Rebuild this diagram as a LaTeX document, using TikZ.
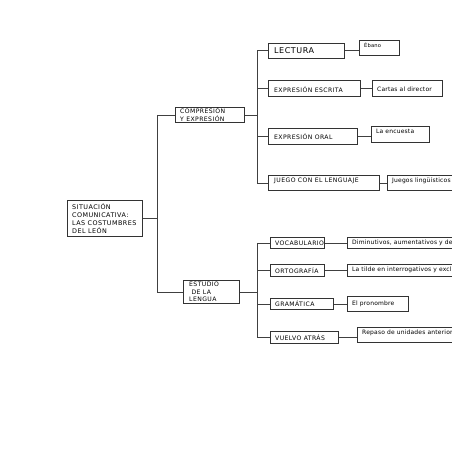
\documentclass[tikz,border=0pt]{standalone}
\usepackage{fontspec}
\setmainfont{DejaVu Sans}
\newfontfamily\capf[LetterSpace=7]{DejaVu Sans}
\newfontfamily\lowf[LetterSpace=3]{DejaVu Sans}
\usetikzlibrary{shadows}
\newcommand\mybox[5]{\node[bx, minimum width=#4-#2, minimum height=#5-#3] (#1) at (#2,#3) {};}
\begin{document}
\begin{tikzpicture}[x=1pt,y=-1pt,
  bx/.style={draw=black!80, line width=0.6pt, fill=white, anchor=north west, inner sep=0pt,
    drop shadow={shadow xshift=0.8pt, shadow yshift=-0.8pt, fill=black!40, opacity=1}},
  tx/.style={anchor=west, inner xsep=5pt, inner ysep=0pt, align=left, font=\capf\fontsize{6.1}{7.6}\selectfont},
  lw/.style={tx, font=\lowf\fontsize{6}{7.5}\selectfont},
  txt/.style={anchor=north west, inner ysep=2.5pt},
  ln/.style={draw=black!75, line width=0.6pt}]
\useasboundingbox (0,0) rectangle (452,452);
\clip (0,0) rectangle (452,452);
% boxes
\mybox{sit}{67}{200}{142}{236}
\mybox{comp}{175}{107}{244}{122}
\mybox{est}{183}{280}{239}{303}
\mybox{lect}{268}{43}{344}{58}
\mybox{eb}{359}{40}{399}{55}
\mybox{esc}{268}{80}{360}{96}
\mybox{car}{372}{80}{442}{96}
\mybox{oral}{268}{128}{357}{144}
\mybox{enc}{371}{126}{429}{142}
\mybox{jue}{268}{175}{379}{190}
\mybox{jl}{387}{175}{470}{190}
\mybox{voc}{270}{237}{324}{248}
\mybox{dim}{347}{237}{470}{248}
\mybox{ort}{270}{264}{324}{276}
\mybox{til}{347}{264}{470}{276}
\mybox{gram}{270}{298}{333}{309}
\mybox{pro}{347}{296}{408}{311}
\mybox{vue}{270}{331}{338}{343}
\mybox{rep}{357}{327}{470}{342}
% texts
\node[tx, font=\capf\fontsize{6.4}{8}\selectfont, inner xsep=5pt] at (sit.west) {SITUACIÓN\\COMUNICATIVA:\\LAS COSTUMBRES\\DEL LEÓN};
\node[tx] at (comp.west) {COMPRESIÓN\\Y EXPRESIÓN};
\node[tx, inner xsep=6pt] at (est.west) {ESTUDIO\\\ DE LA\\LENGUA};
\node[tx, font=\capf\fontsize{8}{9}\selectfont, inner xsep=6pt] at (lect.west) {LECTURA};
\node[lw, txt, font=\lowf\fontsize{5.2}{6}\selectfont] at (eb.north west) {Ébano};
\node[tx, inner xsep=6pt] at ([yshift=-1]esc.west) {EXPRESIÓN ESCRITA};
\node[lw] at ([yshift=-1]car.west) {Cartas al director};
\node[tx, inner xsep=6pt] at (oral.west) {EXPRESIÓN ORAL};
\node[lw, txt] at (enc.north west) {La encuesta};
\node[tx, txt, inner xsep=6pt] at (jue.north west) {JUEGO CON EL LENGUAJE};
\node[lw, txt] at (jl.north west) {Juegos lingüísticos};
\node[tx] at (voc.west) {VOCABULARIO};
\node[lw] at (dim.west) {Diminutivos, aumentativos y despectivos};
\node[tx] at (ort.west) {ORTOGRAFÍA};
\node[lw] at (til.west) {La tilde en interrogativos y exclamativos};
\node[tx] at (gram.west) {GRAMÁTICA};
\node[lw] at (pro.west) {El pronombre};
\node[tx] at (vue.west) {VUELVO ATRÁS};
\node[lw, txt] at (rep.north west) {Repaso de unidades anteriores};
% spines
\coordinate (sA) at (157,0);
\coordinate (sB) at (257,0);
\draw[ln] (sit.east) -- (sit.east -| sA);
\draw[ln] (comp.west -| sA) -- (est.west -| sA);
\draw[ln] (comp.west -| sA) -- (comp.west);
\draw[ln] (est.west -| sA) -- (est.west);
\draw[ln] (comp.east) -- (comp.east -| sB);
\draw[ln] (lect.west -| sB) -- (jue.west -| sB);
\foreach \n in {lect,esc,oral,jue} \draw[ln] (\n.west -| sB) -- (\n.west);
\draw[ln] (est.east) -- (est.east -| sB);
\draw[ln] (voc.west -| sB) -- (vue.west -| sB);
\foreach \n in {voc,ort,gram,vue} \draw[ln] (\n.west -| sB) -- (\n.west);
% leaves
\draw[ln] (lect.east) -- (lect.east -| eb.west);
\draw[ln] (esc.east) -- (car.west);
\draw[ln] (oral.east) -- (oral.east -| enc.west);
\draw[ln] (jue.east) -- (jl.west);
\draw[ln] (voc.east) -- (dim.west);
\draw[ln] (ort.east) -- (til.west);
\draw[ln] (gram.east) -- (gram.east -| pro.west);
\draw[ln] (vue.east) -- (vue.east -| rep.west);
\end{tikzpicture}
\end{document}
